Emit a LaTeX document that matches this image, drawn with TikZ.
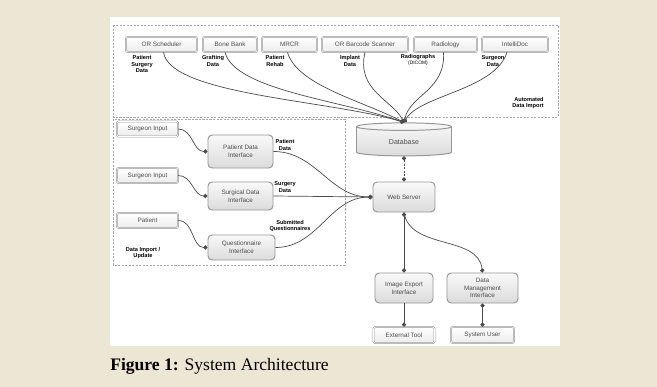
\documentclass[tikz,border=0pt]{standalone}
\usepackage{fontspec}
\setsansfont{Liberation Sans}
\newfontfamily\capfont{Liberation Serif}
\usetikzlibrary{arrows.meta,shapes.geometric}

\definecolor{pagebg}{RGB}{236,230,212}
\definecolor{boxline}{RGB}{150,150,150}
\newdimen\px \px=0.025cm

\tikzset{
  srcbox/.style={draw=boxline, double=white, double distance=0.5pt, rounded corners=1pt,
    top color=white, bottom color=gray!15, minimum height=15\px, inner sep=0pt,
    font=\sffamily\fontsize{4.5}{5}\selectfont, text=gray!60!black},
  iface/.style={draw=boxline, line width=0.7pt, rounded corners=3pt, top color=gray!5,
    bottom color=gray!28, align=center, inner sep=0pt,
    font=\sffamily\fontsize{4.5}{5.5}\selectfont, text=gray!60!black},
  flow/.style={draw=black!70, line width=0.5pt},
  enddot/.style={-{Circle[length=3pt]}},
  bothdot/.style={{Circle[length=3pt]}-{Circle[length=3pt]}},
  lbl/.style={font=\sffamily\bfseries\fontsize{4}{4.6}\selectfont, align=center, inner sep=0pt},
  frame/.style={draw=gray!70, dash pattern=on 1.5pt off 1pt, line width=0.6pt},
}

\begin{document}
\begin{tikzpicture}[x=0.025cm,y=-0.025cm]
\useasboundingbox (0,0) rectangle (657,387);
\fill[pagebg] (0,0) rectangle (657,387);
\fill[white] (110,17) rectangle (560,346);

% import frames
\draw[frame] (113,25) rectangle (558,117);
\draw[frame] (113,119) rectangle (345,265);
\node[lbl, align=right] (autolbl) at (528,103) {Automated\\Data Import};
\node[lbl] (manlbl) at (143,253) {Data Import /\\Update};

% external sources along the top
\node[srcbox, minimum width=71\px] (s1) at (161.5,44.5) {OR Scheduler};
\node[srcbox, minimum width=54\px] (s2) at (230,44.5) {Bone Bank};
\node[srcbox, minimum width=55\px] (s3) at (289.5,44.5) {MRCR};
\node[srcbox, minimum width=86\px] (s4) at (365,44.5) {OR Barcode Scanner};
\node[srcbox, minimum width=63\px] (s5) at (445.5,44.5) {Radiology};
\node[srcbox, minimum width=66\px] (s6) at (515,44.5) {IntelliDoc};

\node[lbl] (l1) at (142,64) {Patient\\Surgery\\Data};
\node[lbl] (l2) at (213,61) {Grafting\\Data};
\node[lbl] (l3) at (275,61) {Patient\\Rehab};
\node[lbl] (l4) at (350,61) {Implant\\Data};
\node[lbl] (l5) at (418,60) {Radiographs\\{\mdseries\fontsize{3.5}{4}\selectfont(DICOM)}};
\node[lbl] (l6) at (493,61) {Surgeon\\Data};

% core
\node[cylinder, shape border rotate=90, aspect=0.25, draw=boxline, line width=0.7pt,
  top color=gray!5, bottom color=gray!28, minimum width=95\px, minimum height=33\px,
  inner sep=0pt, font=\sffamily\fontsize{5}{6}\selectfont, text=gray!60!black]
  (db) at (404,141.5) {Database};
\node[iface, minimum width=62\px, minimum height=30\px] (web) at (404,197) {Web Server};

% manual input side
\node[srcbox, minimum width=61\px] (in1) at (147.5,129) {Surgeon Input};
\node[srcbox, minimum width=61\px] (in2) at (147.5,175.5) {Surgeon Input};
\node[srcbox, minimum width=61\px] (in3) at (147.5,220.5) {Patient};
\node[iface, minimum width=65\px, minimum height=33\px] (pdi) at (240.5,151.5) {Patient Data\\Interface};
\node[iface, minimum width=65\px, minimum height=28\px] (sdi) at (240.5,196) {Surgical Data\\Interface};
\node[iface, minimum width=67\px, minimum height=25\px] (qi) at (241.5,247.5) {Questionnaire\\Interface};
\node[lbl] (lp) at (285,145) {Patient\\Data};
\node[lbl] (ls) at (285,187) {Surgery\\Data};
\node[lbl] (lq) at (290,226) {Submitted\\Questionnaires};

% output side
\node[iface, minimum width=58\px, minimum height=30\px] (iei) at (404,288) {Image Export\\Interface};
\node[iface, minimum width=71\px, minimum height=30\px] (dmi) at (482.5,288) {Data\\Management\\Interface};
\node[srcbox, minimum width=61\px, minimum height=16\px] (ext) at (404,335) {External Tool};
\node[srcbox, minimum width=63\px, minimum height=16\px] (usr) at (482.5,335) {System User};

% automated imports into the database
\draw[flow,enddot] ([xshift=2\px]s1.south) .. controls (170,95) and (330,100) .. (db.north);
\draw[flow,enddot] ([xshift=-5\px]s2.south) .. controls (235,90) and (340,100) .. (db.north);
\draw[flow,enddot] ([xshift=-2\px]s3.south) .. controls (297,85) and (360,100) .. (db.north);
\draw[flow,enddot] (s4.south) .. controls (356,90) and (392,100) .. (db.north);
\draw[flow,enddot] ([xshift=-2\px]s5.south) .. controls (446,90) and (410,95) .. (db.north);
\draw[flow,enddot] ([xshift=-8\px]s6.south) .. controls (495,90) and (420,95) .. (db.north);

% manual entry
\draw[flow,enddot] (in1.east) to[out=0,in=180] (pdi.west);
\draw[flow,enddot] (in2.east) to[out=0,in=180] (sdi.west);
\draw[flow,enddot] (in3.east) to[out=0,in=180] (qi.west);
\draw[flow,enddot] (pdi.east) to[out=0,in=180] (web.west);
\draw[flow,enddot] (sdi.east) -- (web.west);
\draw[flow,enddot] (qi.east) to[out=0,in=180] (web.west);

% server links
\draw[flow,bothdot,dash pattern=on 1.5pt off 1pt] (db.south) -- (web.north);
\draw[flow,bothdot] (web.south) -- (iei.north);
\draw[flow,enddot] (web.south) .. controls (410,250) and (478,235) .. (dmi.north);
\draw[flow,enddot] (iei.south) -- (ext.north);
\draw[flow,bothdot] (usr.north) -- (dmi.south);

\node[anchor=west, inner sep=0pt, font=\capfont\fontsize{12.5}{14}\selectfont] (cap) at (110,366)
  {\textbf{Figure 1:} System Architecture};
\end{tikzpicture}
\end{document}
